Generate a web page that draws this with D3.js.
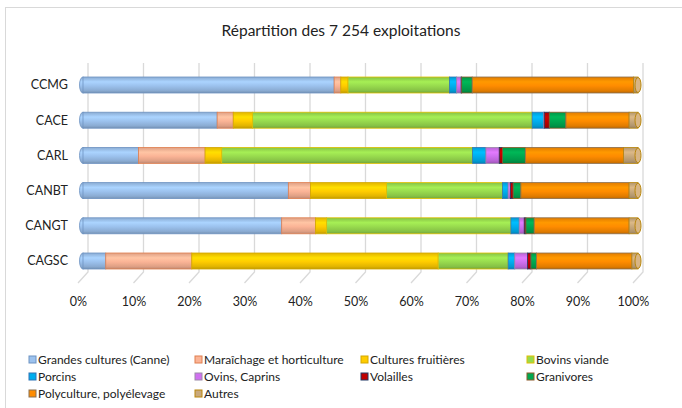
<!DOCTYPE html>
<html><head><meta charset="utf-8">
<script src="https://cdn.jsdelivr.net/npm/d3@7"></script>
<style>body{margin:0;background:#fff}svg{display:block}</style>
</head><body><svg id="c" width="682" height="408"></svg>
<script>
const title = "Répartition des 7 254 exploitations";
const categories = ["CCMG","CACE","CARL","CANBT","CANGT","CAGSC"];
const seriesNames = ["Grandes cultures (Canne)","Maraîchage et horticulture","Cultures fruitières","Bovins viande","Porcins","Ovins, Caprins","Volailles","Granivores","Polyculture, polyélevage","Autres"];
const grandesCultures = [45.3,24.2,10.0,37.0,35.8,4.1];
const maraichage      = [1.2, 2.9, 12.0,4.0, 6.1, 15.5];
const fruitieres      = [1.3, 3.5, 3.0, 13.7,2.0, 44.4];
const bovins          = [18.3,50.4,45.2,20.9,33.2,12.6];
const porcins         = [1.3, 2.1, 2.4, 1.0, 1.5, 1.2];
const ovins           = [0.8, 0.1, 2.4, 0.4, 0.9, 2.3];
const volailles       = [0.1, 0.9, 0.6, 0.5, 0.3, 0.6];
const granivores      = [1.9, 3.0, 4.1, 1.4, 1.5, 1.0];
const polyculture     = [29.1,11.4,17.7,19.5,17.1,17.2];
const autres          = [0.8, 1.6, 2.6, 1.6, 1.6, 1.1];
const seriesValues = [grandesCultures,maraichage,fruitieres,bovins,porcins,ovins,volailles,granivores,polyculture,autres];
const tickLabels = ["0%","10%","20%","30%","40%","50%","60%","70%","80%","90%","100%"];

const colors  = ["#9CC2EE","#FBB496","#FFCC00","#98DB4E","#00AEEF","#D070F0","#C00000","#00A850","#FF8C00","#C9A97C"];
const strokes = ["#6E93C2","#E07F4F","#D4A800","#E0C000","#2E75B6","#9A8AA8","#203864","#8B5A2B","#8A7050","#B8860B"];

const svg = d3.select("#c");
const FONT = "Lato, 'Open Sans', sans-serif";
const defs = svg.append("defs");
colors.forEach((c,i)=>{
  const g = defs.append("linearGradient").attr("id","g"+i).attr("x1",0).attr("y1",0).attr("x2",0).attr("y2",1);
  const base = d3.color(c);
  [[0,base.darker(0.35)],[0.3,base.brighter(0.25)],[0.55,base],[0.85,base.darker(0.35)],[1,base.darker(0.8)]].forEach(([o,col])=>
    g.append("stop").attr("offset",o).attr("stop-color",col.formatHex()));
});

// chart border
svg.append("rect").attr("x",5.5).attr("y",7.5).attr("width",690).attr("height",420)
  .attr("fill","none").attr("stroke","#d9d9d9");

svg.append("text").attr("x",341).attr("y",36).attr("text-anchor","middle")
  .attr("font-family",FONT).attr("font-size",15.5).attr("fill","#222").text(title);

const x = d3.scaleLinear().domain([0,1]).range([78,633]);
const bx = 5, wx = 10; // bar depth offset and back-wall offset
const y = d3.scaleBand().domain(categories).range([67.4,278.6]).paddingInner(0).paddingOuter(0);
const barH = 16;

// gridlines (3D back wall + floor diagonals)
const ticks = d3.range(0,1.0001,0.1);
const grid = svg.append("g").attr("stroke","#d9d9d9").attr("stroke-width",1.3).attr("fill","none");
ticks.forEach(t=>{
  grid.append("path").attr("d",`M${x(t)+wx},63 L${x(t)+wx},272 L${x(t)},283`);
});

// axis labels
const axis = d3.axisBottom(x).tickValues(ticks).tickFormat((d,i)=>tickLabels[i]).tickSize(0).tickPadding(0);
const ax = svg.append("g").attr("transform","translate(0,297)").call(axis);
ax.select(".domain").remove();
ax.selectAll("text").attr("font-family",FONT).attr("font-size",12.5).attr("fill","#222").attr("dy","0.71em");

// category labels
svg.append("g").selectAll("text").data(categories).join("text")
  .attr("x",68).attr("y",d=>y(d)+y.bandwidth()/2).attr("dy","0.35em").attr("text-anchor","end")
  .attr("font-family",FONT).attr("font-size",12.5).attr("fill","#222").text(d=>d);

// stacked data
const rows = categories.map((c,ci)=>{const o={cat:c}; seriesNames.forEach((s,si)=>o[s]=seriesValues[si][ci]); return o;});
const stack = d3.stack().keys(seriesNames).offset(d3.stackOffsetExpand)(rows);

const bars = svg.append("g");
// left rounded ends
bars.selectAll("ellipse.l").data(rows).join("ellipse")
  .attr("cx",x(0)+bx).attr("cy",d=>y(d.cat)+y.bandwidth()/2).attr("rx",3.5).attr("ry",barH/2)
  .attr("fill","url(#g0)").attr("stroke",strokes[0]).attr("stroke-width",0.8);
stack.forEach((layer,si)=>{
  bars.append("g").selectAll("rect").data(layer).join("rect")
    .attr("x",d=>x(d[0])+bx).attr("width",d=>Math.max(0,x(d[1])-x(d[0])))
    .attr("y",d=>y(d.data.cat)+y.bandwidth()/2-barH/2).attr("height",barH)
    .attr("fill",`url(#g${si})`).attr("stroke",strokes[si]).attr("stroke-width",0.8);
});
// right end faces
bars.selectAll("ellipse.r").data(rows).join("ellipse")
  .attr("cx",x(1)+bx).attr("cy",d=>y(d.cat)+y.bandwidth()/2).attr("rx",3).attr("ry",barH/2-0.5)
  .attr("fill",d3.color(colors[9]).brighter(0.2)).attr("stroke","#B8860B").attr("stroke-width",1);

// legend
const legX = [29,195,361,527], legY = [360,377,394];
const leg = svg.append("g").selectAll("g").data(seriesNames).join("g")
  .attr("transform",(d,i)=>`translate(${legX[i%4]},${legY[Math.floor(i/4)]})`);
leg.append("rect").attr("x",0).attr("y",-4).attr("width",7).attr("height",7)
  .attr("fill",(d,i)=>colors[i]).attr("stroke",(d,i)=>strokes[i]).attr("stroke-width",1);
leg.append("text").attr("x",9).attr("y",0).attr("dy","0.35em")
  .attr("font-family",FONT).attr("font-size",12).attr("fill","#222").text(d=>d);
</script></body></html>
